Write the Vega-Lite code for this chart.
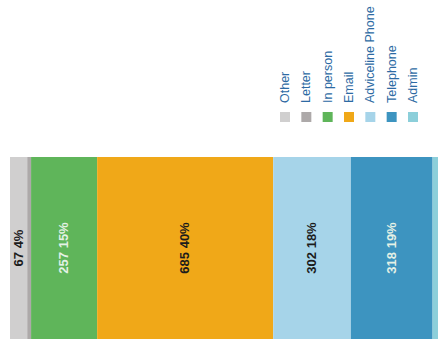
{
  "$schema": "https://vega.github.io/schema/vega-lite/v6.json",
  "width": 438,
  "height": 342,
  "autosize": {"type": "none"},
  "padding": 0,
  "background": "white",
  "config": {"view": {"stroke": null}, "font": "Liberation Sans"},
  "data": {
    "values": [
      {"category": "Other", "count": 67, "label": "67 4%"},
      {"category": "Letter", "count": 15, "label": ""},
      {"category": "In person", "count": 257, "label": "257 15%"},
      {"category": "Email", "count": 685, "label": "685 40%"},
      {"category": "Adviceline Phone", "count": 302, "label": "302 18%"},
      {"category": "Telephone", "count": 318, "label": "318 19%"},
      {"category": "Admin", "count": 56, "label": ""}
    ]
  },
  "transform": [
    {"window": [{"op": "row_number", "as": "rank"}]},
    {"stack": "count", "groupby": [], "sort": [{"field": "rank", "order": "ascending"}], "as": ["x0", "x1"]},
    {"calculate": "(datum.x0 + datum.x1) / 2", "as": "xmid"}
  ],
  "layer": [
    {
      "mark": {"type": "bar", "clip": true},
      "encoding": {
        "x": {"field": "x0", "type": "quantitative", "axis": null, "scale": {"domain": [0, 1665], "range": [10, 438], "zero": false, "nice": false}},
        "x2": {"field": "x1"},
        "y": {"datum": "Contacts", "type": "nominal", "axis": null, "scale": {"range": [157, 339], "paddingInner": 0, "paddingOuter": 0}},
        "color": {
          "field": "category", "type": "nominal", "legend": null,
          "scale": {
            "domain": ["Other", "Letter", "In person", "Email", "Adviceline Phone", "Telephone", "Admin"],
            "range": ["#d0cfcf", "#ada9a9", "#5fb55a", "#f0a818", "#a6d4e9", "#3d94c0", "#8ccfda"]
          }
        }
      }
    },
    {
      "mark": {"type": "text", "angle": -90, "align": "center", "baseline": "middle", "fontSize": 13, "fontWeight": "bold", "clip": true},
      "encoding": {
        "x": {"field": "xmid", "type": "quantitative", "axis": null, "scale": {"domain": [0, 1665], "range": [10, 438], "zero": false, "nice": false}},
        "y": {"datum": "Contacts", "type": "nominal", "axis": null, "scale": {"range": [157, 339], "paddingInner": 0, "paddingOuter": 0}},
        "text": {"field": "label"},
        "color": {
          "condition": {"test": "datum.category === 'In person' || datum.category === 'Telephone'", "value": "#e4f1e6"},
          "value": "#1c1c1c"
        }
      }
    },
    {
      "mark": {"type": "square", "size": 100, "opacity": 1},
      "encoding": {
        "x": {"field": "category", "type": "nominal", "axis": null, "sort": null, "scale": {"type": "point", "domain": ["Other", "Letter", "In person", "Email", "Adviceline Phone", "Telephone", "Admin"], "range": [285, 413], "padding": 0}},
        "y": {"datum": "swatch", "type": "nominal", "axis": null, "scale": {"type": "point", "domain": ["label", "swatch"], "range": [103, 117], "padding": 0}},
        "color": {"field": "category", "type": "nominal", "legend": null}
      }
    },
    {
      "mark": {"type": "text", "angle": -90, "align": "left", "baseline": "middle", "fontSize": 12.5, "color": "#2d6aa3"},
      "encoding": {
        "x": {"field": "category", "type": "nominal", "axis": null, "sort": null, "scale": {"type": "point", "domain": ["Other", "Letter", "In person", "Email", "Adviceline Phone", "Telephone", "Admin"], "range": [285, 413], "padding": 0}},
        "y": {"datum": "label", "type": "nominal", "axis": null, "scale": {"type": "point", "domain": ["label", "swatch"], "range": [103, 117], "padding": 0}},
        "text": {"field": "category"}
      }
    }
  ],
  "resolve": {"scale": {"x": "independent", "y": "independent"}}
}
